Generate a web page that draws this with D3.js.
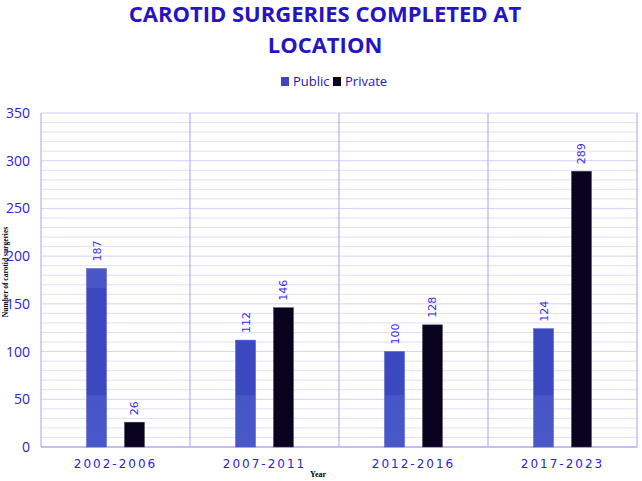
<!DOCTYPE html>
<html><head><meta charset="utf-8">
<script src="https://cdn.jsdelivr.net/npm/d3@7"></script>
<style>body{margin:0;background:#fff}svg{display:block}</style>
</head><body>
<script>
const categories = ["2002-2006","2007-2011","2012-2016","2017-2023"];
const seriesNames = ["Public","Private"];
const publicValues = [187,112,100,124];
const privateValues = [26,146,128,289];
const yTicks = [0,50,100,150,200,250,300,350];

const W=642,H=481;
const m={l:41,r:5,t:113,b:34};
const svg=d3.select("body").append("svg").attr("width",W).attr("height",H);
const defs=svg.append("defs");

const x=d3.scaleBand().domain(categories).range([m.l,W-m.r]);
const y=d3.scaleLinear().domain([0,350]).range([H-m.b,m.t]);
const xs=d3.scaleBand().domain(seriesNames).range([0,x.bandwidth()]).paddingInner(0.474).paddingOuter(1.2);

const g1=defs.append("linearGradient").attr("id","pubg").attr("gradientUnits","userSpaceOnUse")
  .attr("x1",0).attr("x2",0).attr("y1",y(350)).attr("y2",y(0));
const f=v=>((y(v)-y(350))/(y(0)-y(350))*100)+"%";
[[f(350),"#4856c8"],[f(167),"#4856c8"],[f(167),"#3c48bf"],[f(55),"#3c48bf"],[f(55),"#4656c7"],[f(0),"#4858c9"]].forEach(s=>g1.append("stop").attr("offset",s[0]).attr("stop-color",s[1]));

// minor gridlines
const grid=d3.range(0,351,10);
svg.append("g").selectAll("line").data(grid).join("line")
 .attr("x1",m.l).attr("x2",W-m.r).attr("y1",d=>y(d)).attr("y2",d=>y(d))
 .attr("stroke",d=>d%50===0?"#d6d0f8":"#e2defa").attr("stroke-width",1);
// vertical separators
svg.append("g").selectAll("line").data(d3.range(categories.length+1)).join("line")
 .attr("x1",i=>m.l+i*x.step()).attr("x2",i=>m.l+i*x.step())
 .attr("y1",y(350)).attr("y2",y(0)).attr("stroke","#bcaef2").attr("stroke-width",1.2);
// bottom axis line
svg.append("line").attr("x1",m.l).attr("x2",W-m.r).attr("y1",y(0)).attr("y2",y(0)).attr("stroke","#bcaef2").attr("stroke-width",1.5);

const data=[publicValues,privateValues];
const fills=["url(#pubg)","#0a0320"];
seriesNames.forEach((s,si)=>{
  const gg=svg.append("g");
  gg.selectAll("rect").data(categories).join("rect")
   .attr("x",c=>x(c)+xs(s)).attr("width",xs.bandwidth())
   .attr("y",(c,i)=>y(data[si][i])).attr("height",(c,i)=>y(0)-y(data[si][i]))
   .attr("fill",fills[si]).attr("stroke",si===0?"#4856c8":"#444").attr("stroke-width",0.5);
  gg.selectAll("text").data(categories).join("text")
   .attr("transform",(c,i)=>`translate(${x(c)+xs(s)+xs.bandwidth()/2+4},${y(data[si][i])-7}) rotate(-90)`)
   .attr("font-family","DejaVu Sans, sans-serif").attr("font-size",11).attr("fill","#3a2ee8")
   .text((c,i)=>data[si][i]);
});

// y axis labels
const ya=svg.append("g").attr("transform",`translate(${m.l},0)`).call(d3.axisLeft(y).tickValues(yTicks).tickSize(0).tickPadding(11));
ya.select(".domain").remove();
ya.selectAll("text").attr("font-family","Open Sans, sans-serif").attr("font-size",14).attr("fill","#3020d8");
// x axis labels
const xa=svg.append("g").attr("transform",`translate(0,${y(0)})`).call(d3.axisBottom(x).tickSize(0).tickPadding(12));
xa.select(".domain").remove();
xa.selectAll("text").attr("font-family","DejaVu Sans, sans-serif").attr("font-size",12).attr("letter-spacing","2px").attr("fill","#3020d8");

// axis titles
svg.append("text").attr("x",318).attr("y",477).attr("text-anchor","middle").attr("font-family","Liberation Serif, serif").attr("font-weight","bold").attr("font-size",8).attr("fill","#000").text("Year");
svg.append("text").attr("transform","translate(8,272) rotate(-90)").attr("text-anchor","middle").attr("font-family","Liberation Serif, serif").attr("font-weight","bold").attr("font-size",7.5).attr("fill","#000").text("Number of carotid surgeries");

// title
const tt=svg.append("text").attr("text-anchor","middle").attr("font-family","Open Sans, sans-serif").attr("font-weight","bold").attr("font-size",22).attr("fill","#2614c4");
tt.append("tspan").attr("x",325).attr("y",22).text("CAROTID SURGERIES COMPLETED AT");
tt.append("tspan").attr("x",325).attr("y",53).text("LOCATION");

// legend
const legColors=["#3c48bf","#0a0320"];
const lg=svg.append("g").attr("transform","translate(0,82)");
const lx=[281,333];
seriesNames.forEach((s,i)=>{
  lg.append("rect").attr("x",lx[i]).attr("y",-5).attr("width",8).attr("height",9).attr("fill",legColors[i]);
  lg.append("text").attr("x",lx[i]+12).attr("y",4).attr("font-family","Open Sans, sans-serif").attr("font-size",13).attr("fill","#2614c4").text(s);
});
</script>
</body></html>
